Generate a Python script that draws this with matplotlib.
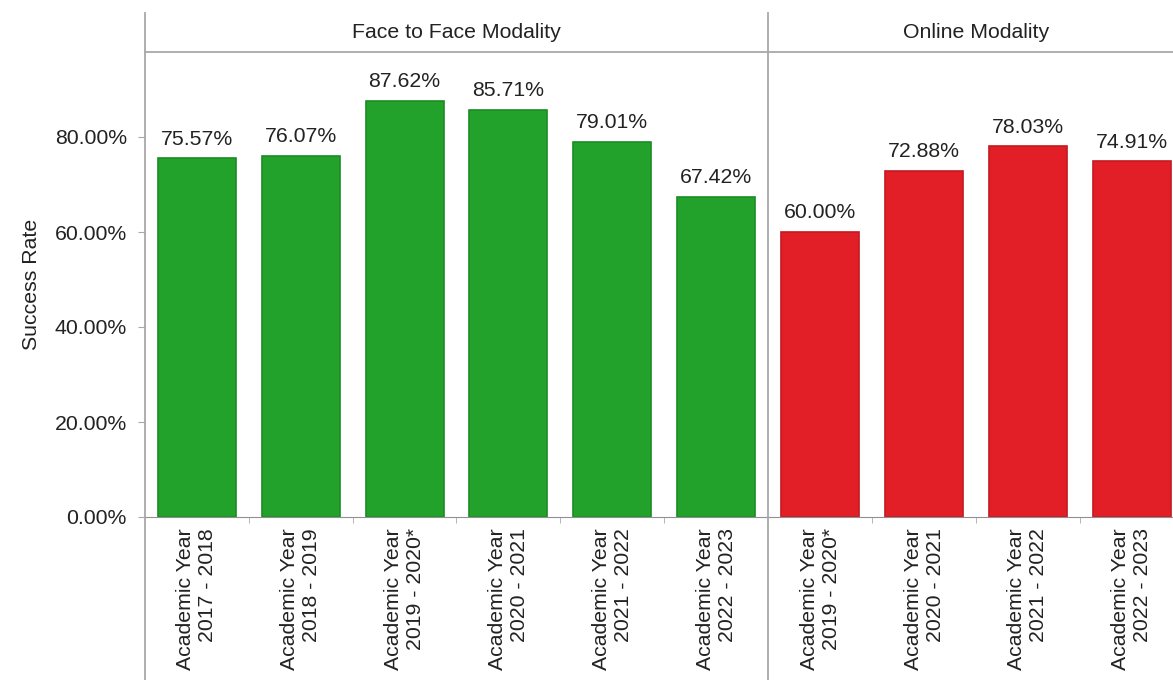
import matplotlib
matplotlib.use("Agg")
import matplotlib.pyplot as plt
from matplotlib.lines import Line2D
from matplotlib.ticker import FixedLocator

plt.rcParams['font.family'] = ['Liberation Sans', 'DejaVu Sans']

panels = ["Face to Face Modality", "Online Modality"]
f2f_years = ["Academic Year\n2017 - 2018", "Academic Year\n2018 - 2019", "Academic Year\n2019 - 2020*",
             "Academic Year\n2020 - 2021", "Academic Year\n2021 - 2022", "Academic Year\n2022 - 2023"]
f2f_rates = [75.57, 76.07, 87.62, 85.71, 79.01, 67.42]
online_years = ["Academic Year\n2019 - 2020*", "Academic Year\n2020 - 2021",
                "Academic Year\n2021 - 2022", "Academic Year\n2022 - 2023"]
online_rates = [60.00, 72.88, 78.03, 74.91]
yticks = [0, 20, 40, 60, 80]

W, H = 1173, 680
fig = plt.figure(figsize=(W / 100, H / 100), dpi=100)
fig.patch.set_facecolor("white")

def fx(px):
    return px / W

def fy(py):
    return 1 - py / H

y0, ytop = 517, 52
bottom = fy(y0)
height = (y0 - ytop) / H
ymax = (y0 - ytop) / 95 * 20

green, green_edge = "#22a22b", "#1b8c22"
red, red_edge = "#e21f26", "#c4191f"
fs = 15.3
tc = "#222222"
linec = "#a8a8a8"

specs = [
    (145, 768, f2f_years, f2f_rates, green, green_edge, panels[0]),
    (768, 768 + 416, online_years, online_rates, red, red_edge, panels[1]),
]

for i, (l, r, cats, vals, col, ecol, title) in enumerate(specs):
    ax = fig.add_axes([fx(l), bottom, fx(r - l), height])
    x = list(range(len(cats)))
    ax.bar(x, vals, width=0.75, color=col, edgecolor=ecol, linewidth=1.2)
    for xi, v in zip(x, vals):
        ax.text(xi, v + 2.0, f"{v:.2f}%", ha="center", va="bottom", fontsize=fs, color=tc)
    ax.set_xlim(-0.5, len(cats) - 0.5)
    ax.set_ylim(0, ymax)
    ax.set_xticks(x)
    ax.set_xticklabels(cats, rotation=90, fontsize=fs, color=tc, ha="center", va="top",
                       multialignment="right")
    ax.tick_params(axis="x", length=0, pad=8)
    ax.xaxis.set_minor_locator(FixedLocator([k + 0.5 for k in x[:-1]]))
    ax.tick_params(axis="x", which="minor", length=4, color=linec)
    for s in ["top", "right", "left"]:
        ax.spines[s].set_visible(False)
    ax.spines["bottom"].set_color("#909090")
    if i == 0:
        ax.set_yticks(yticks)
        ax.set_yticklabels([f"{t:.2f}%" for t in yticks], fontsize=fs, color=tc)
        ax.tick_params(axis="y", length=5, color=linec, pad=8)
        ax.set_ylabel("Success Rate", fontsize=fs, color=tc, labelpad=10)
    else:
        ax.set_yticks([])
    ax.set_facecolor("none")
    fig.text(fx((l + r) / 2 if i == 0 else (l + 1184) / 2), fy(33), title,
             ha="center", va="center", fontsize=fs, color=tc)

# frame lines
fig.add_artist(Line2D([fx(145), fx(145)], [fy(13), 0], color=linec, lw=1.3))
fig.add_artist(Line2D([fx(768), fx(768)], [fy(13), 0], color=linec, lw=1.3))
fig.add_artist(Line2D([fx(145), 1], [fy(52), fy(52)], color=linec, lw=1.3))

fig.savefig("out.png", dpi=100, facecolor="white")
